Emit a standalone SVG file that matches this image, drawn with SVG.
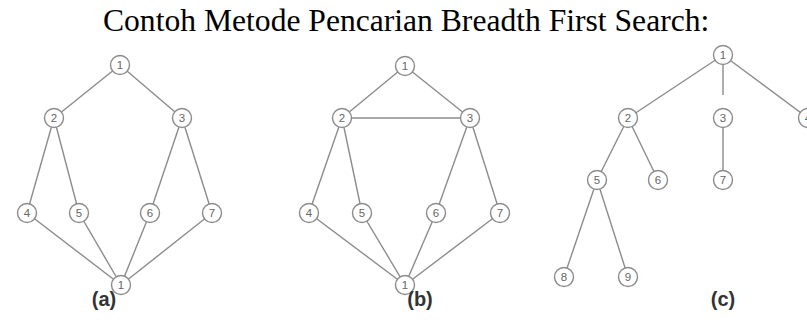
<svg xmlns="http://www.w3.org/2000/svg" width="807" height="320" viewBox="0 0 807 320">
<style>
.e{stroke:#8c8c8c;stroke-width:1.4;fill:none}
.n circle{fill:#fff;stroke:#8c8c8c;stroke-width:1.4}
.n text{font-family:"Liberation Sans",Arial,sans-serif;font-size:11.5px;fill:#666;text-anchor:middle}
.lab{font-family:"Liberation Sans",Arial,sans-serif;font-size:20px;font-weight:bold;fill:#333;text-anchor:middle}
.title{font-family:"Liberation Serif","Times New Roman",serif;font-size:31.6px;fill:#000}
</style>
<rect width="807" height="320" fill="#fff"/>
<text class="title" x="103" y="31">Contoh Metode Pencarian Breadth First Search:</text>
<g id="connectors">
<line class="e" x1="120" y1="65" x2="54" y2="118"/>
<line class="e" x1="120" y1="65" x2="182" y2="118"/>
<line class="e" x1="54" y1="118" x2="27" y2="213"/>
<line class="e" x1="54" y1="118" x2="79" y2="213"/>
<line class="e" x1="182" y1="118" x2="150" y2="213"/>
<line class="e" x1="182" y1="118" x2="212" y2="213"/>
<line class="e" x1="27" y1="213" x2="121" y2="285"/>
<line class="e" x1="79" y1="213" x2="121" y2="285"/>
<line class="e" x1="150" y1="213" x2="121" y2="285"/>
<line class="e" x1="212" y1="213" x2="121" y2="285"/>
<line class="e" x1="405" y1="66" x2="342" y2="118"/>
<line class="e" x1="405" y1="66" x2="470" y2="118"/>
<line class="e" x1="342" y1="118" x2="470" y2="118"/>
<line class="e" x1="342" y1="118" x2="309" y2="213"/>
<line class="e" x1="342" y1="118" x2="362" y2="213"/>
<line class="e" x1="470" y1="118" x2="436" y2="213"/>
<line class="e" x1="470" y1="118" x2="500" y2="213"/>
<line class="e" x1="309" y1="213" x2="405" y2="285"/>
<line class="e" x1="362" y1="213" x2="405" y2="285"/>
<line class="e" x1="436" y1="213" x2="405" y2="285"/>
<line class="e" x1="500" y1="213" x2="405" y2="285"/>
<line class="e" x1="723" y1="55" x2="628" y2="118"/>
<line class="e" x1="723" y1="64" x2="723" y2="95"/>
<line class="e" x1="723" y1="55" x2="808" y2="118"/>
<line class="e" x1="628" y1="118" x2="597" y2="180"/>
<line class="e" x1="628" y1="118" x2="658" y2="180"/>
<line class="e" x1="723" y1="118" x2="723" y2="180"/>
<line class="e" x1="597" y1="180" x2="564" y2="277"/>
<line class="e" x1="597" y1="180" x2="628" y2="277"/>
</g>
<g id="a1" class="n"><circle cx="120" cy="65" r="9.5"/><text x="120" y="69">1</text></g>
<g id="a2" class="n"><circle cx="54" cy="118" r="9.5"/><text x="54" y="122">2</text></g>
<g id="a3" class="n"><circle cx="182" cy="118" r="9.5"/><text x="182" y="122">3</text></g>
<g id="a4" class="n"><circle cx="27" cy="213" r="9.5"/><text x="27" y="217">4</text></g>
<g id="a5" class="n"><circle cx="79" cy="213" r="9.5"/><text x="79" y="217">5</text></g>
<g id="a6" class="n"><circle cx="150" cy="213" r="9.5"/><text x="150" y="217">6</text></g>
<g id="a7" class="n"><circle cx="212" cy="213" r="9.5"/><text x="212" y="217">7</text></g>
<g id="a1b" class="n"><circle cx="121" cy="285" r="9.5"/><text x="121" y="289">1</text></g>
<text class="lab" x="104" y="306">(a)</text>
<g id="b1" class="n"><circle cx="405" cy="66" r="9.5"/><text x="405" y="70">1</text></g>
<g id="b2" class="n"><circle cx="342" cy="118" r="9.5"/><text x="342" y="122">2</text></g>
<g id="b3" class="n"><circle cx="470" cy="118" r="9.5"/><text x="470" y="122">3</text></g>
<g id="b4" class="n"><circle cx="309" cy="213" r="9.5"/><text x="309" y="217">4</text></g>
<g id="b5" class="n"><circle cx="362" cy="213" r="9.5"/><text x="362" y="217">5</text></g>
<g id="b6" class="n"><circle cx="436" cy="213" r="9.5"/><text x="436" y="217">6</text></g>
<g id="b7" class="n"><circle cx="500" cy="213" r="9.5"/><text x="500" y="217">7</text></g>
<g id="b1b" class="n"><circle cx="405" cy="285" r="9.5"/><text x="405" y="289">1</text></g>
<text class="lab" x="420" y="306">(b)</text>
<g id="c1" class="n"><circle cx="723" cy="55" r="9.5"/><text x="723" y="59">1</text></g>
<g id="c2" class="n"><circle cx="628" cy="118" r="9.5"/><text x="628" y="122">2</text></g>
<g id="c3" class="n"><circle cx="723" cy="118" r="9.5"/><text x="723" y="122">3</text></g>
<g id="c4" class="n"><circle cx="808" cy="118" r="9.5"/><text x="808" y="122">4</text></g>
<g id="c5" class="n"><circle cx="597" cy="180" r="9.5"/><text x="597" y="184">5</text></g>
<g id="c6" class="n"><circle cx="658" cy="180" r="9.5"/><text x="658" y="184">6</text></g>
<g id="c7" class="n"><circle cx="723" cy="180" r="9.5"/><text x="723" y="184">7</text></g>
<g id="c8" class="n"><circle cx="564" cy="277" r="9.5"/><text x="564" y="281">8</text></g>
<g id="c9" class="n"><circle cx="628" cy="277" r="9.5"/><text x="628" y="281">9</text></g>
<text class="lab" x="723" y="306">(c)</text>
</svg>
